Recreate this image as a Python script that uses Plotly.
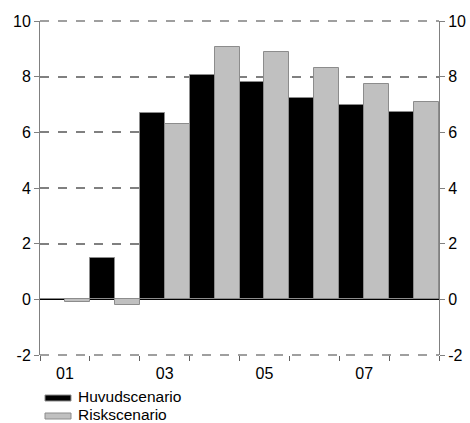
import plotly.graph_objects as go

# Year labels (two-digit) and the two scenario series
years = ["01", "02", "03", "04", "05", "06", "07", "08"]
huvudscenario = [0.0, 1.5, 6.7, 8.05, 7.8, 7.22, 7.0, 6.72]
riskscenario = [-0.1, -0.2, 6.3, 9.05, 8.87, 8.3, 7.73, 7.08]
tick_labels = ["01", "03", "05", "07"]
y_ticks = [-2, 0, 2, 4, 6, 8, 10]
series_names = ["Huvudscenario", "Riskscenario"]
series_colors = ["#000000", "#c0c0c0"]

x_pos = list(range(1, len(years) + 1))
label_pos = [x_pos[years.index(t)] for t in tick_labels]

FONT = dict(family="Arial, Liberation Sans, sans-serif", size=16, color="#000000")
LEG_FONT = dict(FONT, size=15.5)
W, H = 470, 423
L, R, T, B = 40, 31, 21, 68
GRID = "#808080"

fig = go.Figure()
for name, vals, col in zip(series_names, [huvudscenario, riskscenario], series_colors):
    fig.add_trace(go.Bar(
        x=x_pos, y=vals, name=name,
        marker=dict(color=col, line=dict(color="#8c8c8c", width=1)),
        showlegend=False,
    ))

# empty trace so the mirrored right-hand axis is rendered
fig.add_trace(go.Scatter(x=[], y=[], yaxis="y2", showlegend=False, hoverinfo="skip"))

yaxis_common = dict(
    range=[y_ticks[0], y_ticks[-1]],
    tickvals=y_ticks, ticktext=[str(v) for v in y_ticks],
    showline=True, linecolor="#808080", linewidth=1,
    ticks="outside", ticklen=5, tickcolor="#808080",
    tickfont=FONT, fixedrange=True, automargin=False,
)

fig.update_layout(
    template="none",
    width=W, height=H,
    margin=dict(l=L, r=R, t=T, b=B, autoexpand=False),
    paper_bgcolor="white", plot_bgcolor="white",
    barmode="group", bargap=0, bargroupgap=0,
    font=FONT,
    xaxis=dict(
        range=[0.5, len(years) + 0.5],
        tickvals=label_pos, ticktext=tick_labels,
        ticks="outside", ticklen=4, tickcolor="rgba(0,0,0,0)",
        tickfont=FONT, showgrid=False, zeroline=False, showline=False,
        automargin=False,
        minor=dict(tick0=0.5, dtick=1, ticks="outside", ticklen=5,
                   tickcolor="#606060", showgrid=False),
    ),
    yaxis=dict(
        **yaxis_common,
        showgrid=True, gridcolor=GRID, gridwidth=1.5, griddash="dash",
        zeroline=True, zerolinecolor="#000000", zerolinewidth=1.5,
    ),
    yaxis2=dict(
        **yaxis_common,
        overlaying="y", side="right", showgrid=False, zeroline=False,
    ),
)

# dashed grid lines along the top and bottom edges of the plot area
for edge in (0, 1):
    fig.add_shape(
        type="line", xref="paper", yref="paper", x0=0, x1=1, y0=edge, y1=edge,
        line=dict(color=GRID, width=1.5, dash="dash"), layer="above",
    )

# legend drawn below the plot: swatch + label per series
plot_w = W - L - R
plot_h = H - T - B
def px_x(px):
    return (px - L) / plot_w
def px_y(py):
    return (H - B - py) / plot_h

for i, (name, col) in enumerate(zip(series_names, series_colors)):
    cy = 398 + i * 18
    fig.add_shape(
        type="rect", xref="paper", yref="paper",
        x0=px_x(45), x1=px_x(71), y0=px_y(cy + 3), y1=px_y(cy - 3),
        fillcolor=col, line=dict(color="#8c8c8c", width=1),
    )
    fig.add_annotation(
        xref="paper", yref="paper", x=px_x(76), y=px_y(cy - 1.5),
        text=name, showarrow=False, xanchor="left", yanchor="middle",
        font=LEG_FONT,
    )

fig.write_html("out.html")
